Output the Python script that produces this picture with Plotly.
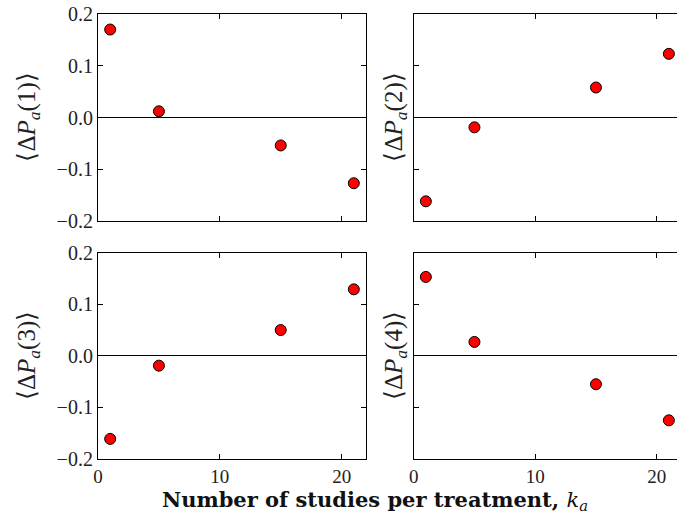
import plotly.graph_objects as go
from plotly.subplots import make_subplots

# Number of studies per treatment
k_a = [1, 5, 15, 21]

# Mean change in probability for each rank position
dP1 = [0.170, 0.012, -0.054, -0.127]
dP2 = [-0.162, -0.019, 0.058, 0.123]
dP3 = [-0.161, -0.019, 0.050, 0.129]
dP4 = [0.153, 0.027, -0.055, -0.125]

series = [dP1, dP2, dP3, dP4]
y_titles = ["(1)", "(2)", "(3)", "(4)"]
y_ticks = [-0.2, -0.1, 0.0, 0.1, 0.2]
x_ticks = [0, 10, 20]

W, H = 677, 518
ML, MR, MT, MB = 98, 0, 14, 59
PW, PH = W - ML - MR, H - MT - MB

def px_x(p):
    return (p - ML) / PW

def px_y(p):
    return (H - MB - p) / PH

fig = make_subplots(rows=2, cols=2)

x_domains = [[0, px_x(366)], [px_x(413.7), 1.0]]
y_domains = [[px_y(221), 1.0], [0.0, px_y(252.7)]]
x_ranges = [[0, 22], [0, 21.67]]

font_family = "Liberation Serif, Times New Roman, serif"
title_family = "DejaVu Serif, serif"

for i, vals in enumerate(series):
    r, c = divmod(i, 2)
    fig.add_trace(
        go.Scatter(
            x=k_a, y=vals, mode="markers",
            marker=dict(size=11, color="#ff0000", line=dict(color="black", width=1)),
            showlegend=False,
        ),
        row=r + 1, col=c + 1,
    )
    fig.update_xaxes(
        domain=x_domains[c], range=x_ranges[c], tickvals=x_ticks,
        ticks="inside", ticklen=5, tickcolor="black",
        showline=True, linecolor="black", linewidth=1.2, mirror="allticks",
        showgrid=False, zeroline=False, showticklabels=(r == 1),
        tickfont=dict(family=font_family, size=19, color="#222"),
        row=r + 1, col=c + 1,
    )
    fig.update_yaxes(
        domain=y_domains[r], range=[-0.2, 0.2], tickvals=y_ticks, tickformat=".1f",
        ticks="inside", ticklen=5, tickcolor="black",
        showline=True, linecolor="black", linewidth=1.2,
        mirror=("allticks" if c == 0 else False),
        showgrid=False, zeroline=True, zerolinecolor="black", zerolinewidth=1.2,
        showticklabels=(c == 0),
        tickfont=dict(family=font_family, size=20, color="#222"),
        row=r + 1, col=c + 1,
    )

# Y-axis labels for each panel
title_x = [px_x(28), px_x(395)]
title_y = [px_y(117.5), px_y(356)]
for i, suffix in enumerate(y_titles):
    r, c = divmod(i, 2)
    fig.add_annotation(
        text="⟨Δ<i>P</i><sub><i>a</i></sub>" + suffix + "⟩",
        xref="paper", yref="paper", x=title_x[c], y=title_y[r],
        xanchor="center", yanchor="middle", textangle=-90, showarrow=False,
        font=dict(family=font_family, size=25, color="#222"),
    )

# Shared x-axis label
fig.add_annotation(
    text="<b>Number of studies per treatment, </b><i>k</i><sub><i>a</i></sub>",
    xref="paper", yref="paper", x=px_x(375), y=px_y(500),
    xanchor="center", yanchor="middle", showarrow=False,
    font=dict(family=title_family, size=21, color="#111"),
)

fig.update_layout(
    width=W, height=H,
    margin=dict(l=ML, r=MR, t=MT, b=MB),
    paper_bgcolor="white", plot_bgcolor="white",
)

fig.write_html("out.html")
